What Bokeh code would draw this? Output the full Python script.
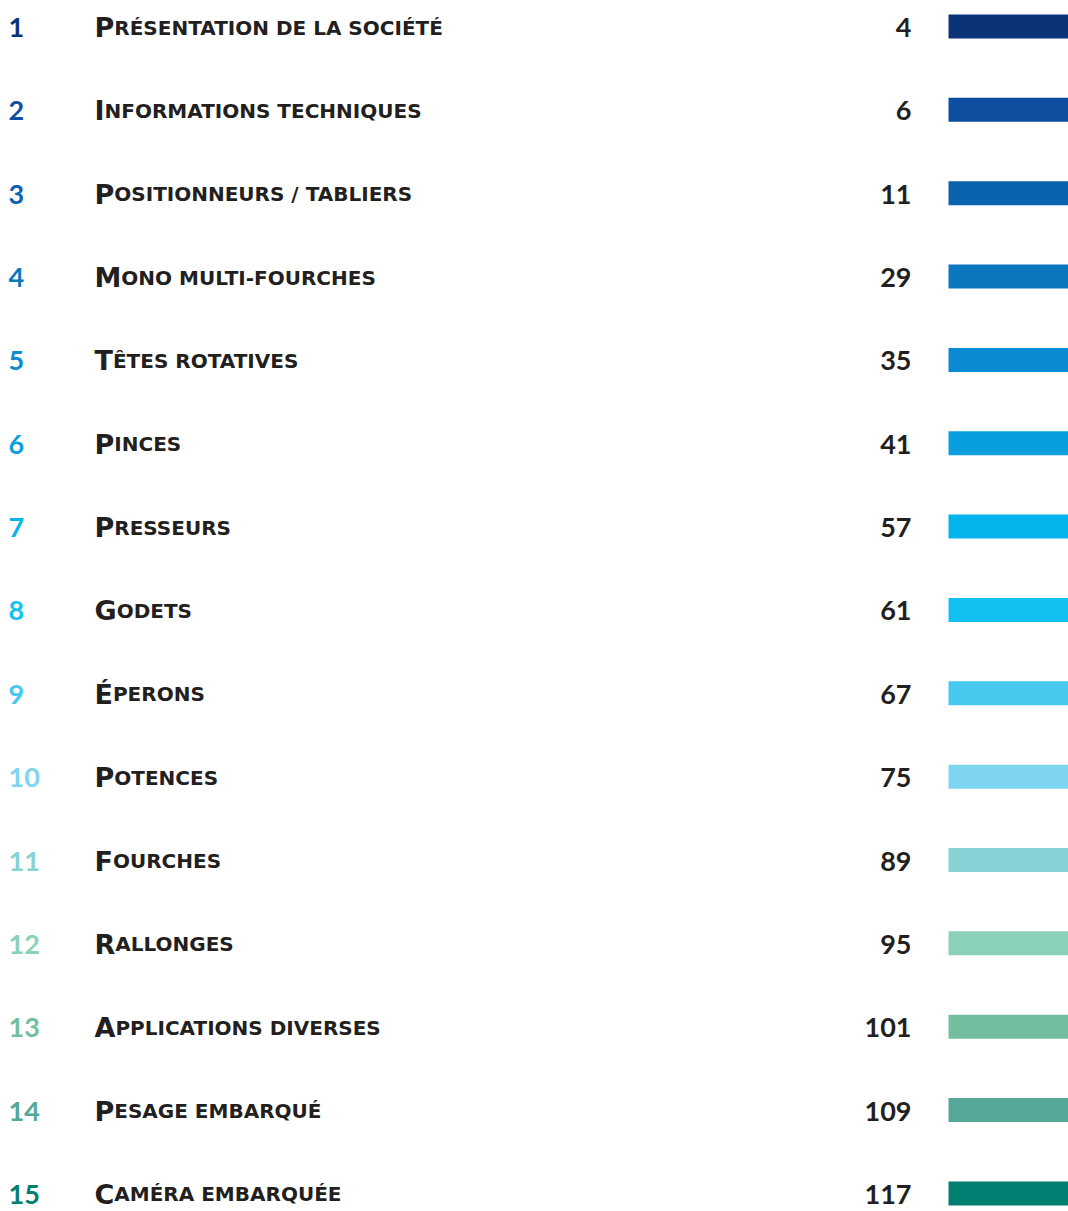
import glob
import struct

from bokeh.core.properties import value
from bokeh.embed import file_html
from bokeh.models import ColumnDataSource, Range1d
from bokeh.plotting import figure
from bokeh.resources import INLINE

# ---------------- data ----------------
chapters = list(range(1, 16))
titles = [
    "Présentation de la société",
    "Informations techniques",
    "Positionneurs / tabliers",
    "Mono multi-fourches",
    "Têtes rotatives",
    "Pinces",
    "Presseurs",
    "Godets",
    "Éperons",
    "Potences",
    "Fourches",
    "Rallonges",
    "Applications diverses",
    "Pesage embarqué",
    "Caméra embarquée",
]
pages = [4, 6, 11, 29, 35, 41, 57, 61, 67, 75, 89, 95, 101, 109, 117]
colors = [
    "#0b3478", "#0d4ea0", "#0b62ae", "#0a77bf", "#0a8bd2",
    "#099fdf", "#02b4ec", "#10c1f2", "#46c8ef", "#7fd4ef",
    "#86d2d4", "#8ad1b9", "#72bf9f", "#55a797", "#037f72",
]

# ---------------- fonts / small caps metrics ----------------
NUM_FONT = "Lato"
TITLE_FONT = "DejaVu Sans"
NUM_SIZE = 27
BIG = 27
SMALL = 20

FALLBACK = {"P": 0.733, "I": 0.372, "M": 0.995, "T": 0.682, "G": 0.821, "É": 0.683,
            "F": 0.683, "R": 0.770, "A": 0.774, "C": 0.734}


def load_adv(path):
    with open(path, "rb") as f:
        data = f.read()
    num = struct.unpack(">H", data[4:6])[0]
    tabs = {}
    for i in range(num):
        tag, _cs, off, _ln = struct.unpack(">4sIII", data[12 + 16 * i:28 + 16 * i])
        tabs[tag.decode("latin1")] = off
    head = tabs["head"]
    upem = struct.unpack(">H", data[head + 18:head + 20])[0]
    hhea = tabs["hhea"]
    nhm = struct.unpack(">H", data[hhea + 34:hhea + 36])[0]
    hmtx = tabs["hmtx"]
    cmap = tabs["cmap"]
    n = struct.unpack(">H", data[cmap + 2:cmap + 4])[0]
    sub = None
    for i in range(n):
        pid, eid, off = struct.unpack(">HHI", data[cmap + 4 + 8 * i:cmap + 12 + 8 * i])
        fmt = struct.unpack(">H", data[cmap + off:cmap + off + 2])[0]
        if fmt == 4 and pid in (0, 3):
            sub = cmap + off
            break
    segx2 = struct.unpack(">H", data[sub + 6:sub + 8])[0]
    seg = segx2 // 2
    ends = struct.unpack(">%dH" % seg, data[sub + 14:sub + 14 + segx2])
    starts = struct.unpack(">%dH" % seg, data[sub + 16 + segx2:sub + 16 + 2 * segx2])
    deltas = struct.unpack(">%dh" % seg, data[sub + 16 + 2 * segx2:sub + 16 + 3 * segx2])
    rpos = sub + 16 + 3 * segx2
    roffs = struct.unpack(">%dH" % seg, data[rpos:rpos + segx2])

    def gid(c):
        for k in range(seg):
            if starts[k] <= c <= ends[k]:
                if roffs[k] == 0:
                    return (c + deltas[k]) & 0xFFFF
                addr = rpos + 2 * k + roffs[k] + 2 * (c - starts[k])
                g = struct.unpack(">H", data[addr:addr + 2])[0]
                return (g + deltas[k]) & 0xFFFF if g else 0
        return 0

    def adv(ch):
        g = min(gid(ord(ch)), nhm - 1)
        return struct.unpack(">H", data[hmtx + 4 * g:hmtx + 4 * g + 2])[0] / upem

    return adv


adv = None
try:
    cands = glob.glob("/usr/share/fonts/**/DejaVuSans-Bold.ttf", recursive=True)
    if cands:
        adv = load_adv(cands[0])
except Exception:
    adv = None


def first_width(ch):
    if adv is not None:
        try:
            w = adv(ch)
            if 0.2 < w < 1.2:
                return w * BIG
        except Exception:
            pass
    return FALLBACK.get(ch, 0.7) * BIG


# ---------------- layout ----------------
W, H = 1068, 1211
TOP = 26.0       # pixel centre of the first row
STEP = 83.35     # pixels between rows
BASE = 1.0 / STEP  # text anchor offset below the row centre, in row units
TITLE_X = 94

idx = [c - 1 for c in chapters]
first = [t[0] for t in titles]
rest = [t[1:].upper() for t in titles]
rest_x = [TITLE_X + first_width(t[0]) for t in titles]

src = ColumnDataSource(dict(
    y=idx,
    yb=[i + BASE for i in idx],
    num=[str(c) for c in chapters],
    first=first,
    rest=rest,
    rest_x=rest_x,
    page=[str(p) for p in pages],
    color=colors,
))

p = figure(
    width=W, height=H,
    x_range=Range1d(0, W),
    y_range=Range1d((H - TOP) / STEP, -TOP / STEP),
    output_backend="svg", toolbar_location=None,
    min_border=0, outline_line_color=None,
    background_fill_color="white", border_fill_color="white",
)
p.axis.visible = False
p.grid.visible = False

# bars
p.hbar(y="y", left=948, right=W + 20, height=24 / STEP, fill_color="color",
       line_color=None, source=src)

# chapter numbers
p.text(x=8, y="yb", text="num", text_color="color", text_font=value(NUM_FONT),
       text_font_style="bold", text_font_size=f"{NUM_SIZE}px", text_align="left",
       text_baseline="alphabetic", source=src)

# titles in small caps: initial + remainder
p.text(x=TITLE_X, y="yb", text="first", text_color="#231f20", text_font=value(TITLE_FONT),
       text_font_style="bold", text_font_size=f"{BIG}px", text_align="left",
       text_baseline="alphabetic", source=src)
p.text(x="rest_x", y="yb", text="rest", text_color="#231f20", text_font=value(TITLE_FONT),
       text_font_style="bold", text_font_size=f"{SMALL}px", text_align="left",
       text_baseline="alphabetic", source=src)

# page numbers
p.text(x=911, y="yb", text="page", text_color="#231f20", text_font=value(NUM_FONT),
       text_font_style="bold", text_font_size=f"{NUM_SIZE}px", text_align="right",
       text_baseline="alphabetic", source=src)

open("out.html", "w").write(file_html(p, INLINE))
